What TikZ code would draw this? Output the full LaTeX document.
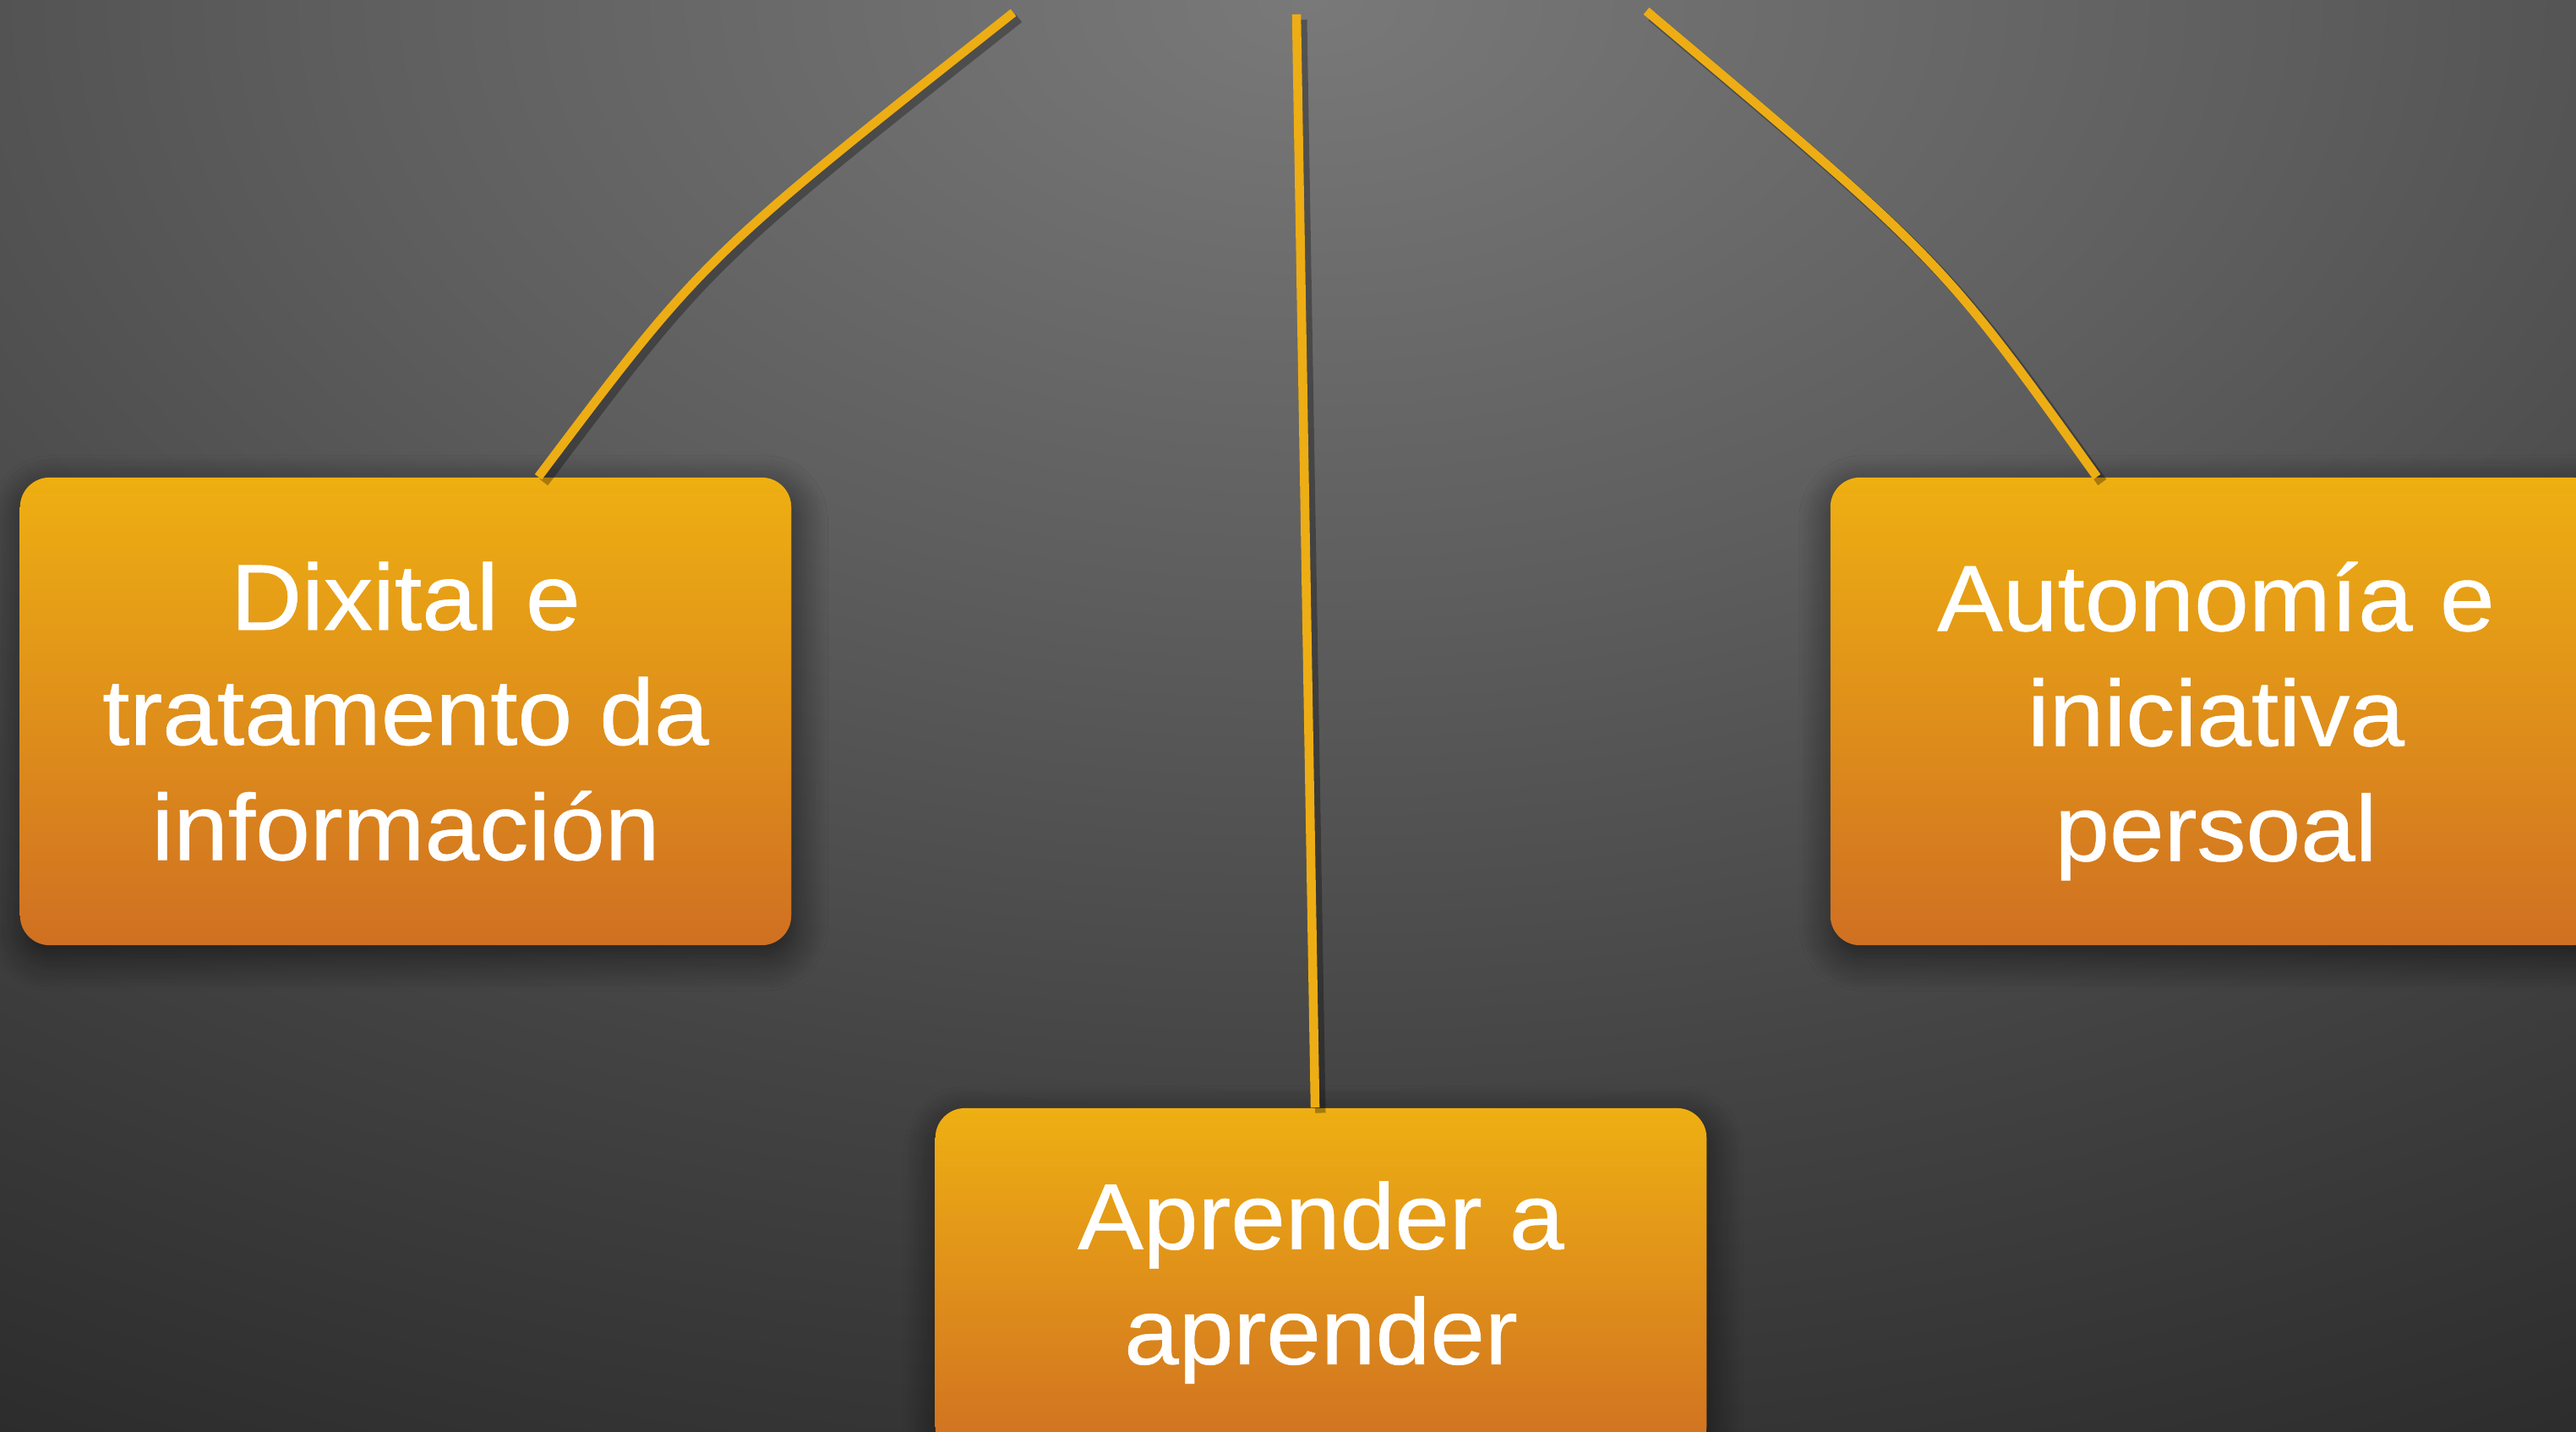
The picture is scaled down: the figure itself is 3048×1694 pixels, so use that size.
\documentclass[tikz,border=0pt]{standalone}
\usepackage{fontspec}
\setmainfont{Liberation Sans}[FakeStretch=1.05,FakeBold=0.6]
\usetikzlibrary{calc,shadows.blur}
\definecolor{bgA}{HTML}{797979}
\definecolor{bgB}{HTML}{5E5E5E}
\definecolor{bgC}{HTML}{444444}
\definecolor{bgD}{HTML}{2A2A2A}
\definecolor{cardTop}{HTML}{EEAF12}
\definecolor{cardBot}{HTML}{D07022}
\definecolor{linkC}{HTML}{EDAD14}
\pgfdeclareradialshading{bgshade}{\pgfpoint{0bp}{0bp}}{color(0bp)=(bgA); color(8.75bp)=(bgB); color(16.25bp)=(bgC); color(25bp)=(bgD); color(50bp)=(bgD)}
\begin{document}
\begin{tikzpicture}[x=0.01cm,y=-0.01cm,
  card/.style={rectangle, rounded corners=0.35cm, minimum width=9.12cm, minimum height=5.53cm,
    inner sep=0pt, align=center, text=white, top color=cardTop, bottom color=cardBot,
    font=\fontsize{31.5}{38.7}\selectfont,
    blur shadow={shadow xshift=0.03cm, shadow yshift=-0.14cm, shadow blur radius=0.4cm, shadow opacity=60, shadow blur steps=12}},
  link/.style={draw=linkC, line width=3pt,
    preaction={draw=black, draw opacity=0.3, line width=3.5pt, transform canvas={xshift=1.8pt, yshift=-1.8pt}}}]
\useasboundingbox (0,0) rectangle (3048,1694);
\clip (0,0) rectangle (3048,1694);
\shade[shading=bgshade] (-1710,-2000) rectangle (4810,2000);

\node[card] (dix) at (480,841.5) {Dixital e\\tratamento da\\información};
\node[card, text depth=0pt] (aut) at (2622,841.5) {Autonomía e\\iniciativa\\persoal};
\node[card, minimum height=4.12cm] (apr) at (1563,1517) {Aprender a\\aprender};

\coordinate (tl) at (1199,15);
\coordinate (tm) at (1534,17);
\coordinate (tr) at (1948,13);

\draw[link] (tl) .. controls (832,305) .. ($(dix.north west)+(614,0)$);
\draw[link] (tm) -- ($(apr.north west)+(450,0)$);
\draw[link] (tr) .. controls (2297,307) .. ($(aut.north west)+(316,0)$);
\end{tikzpicture}
\end{document}
